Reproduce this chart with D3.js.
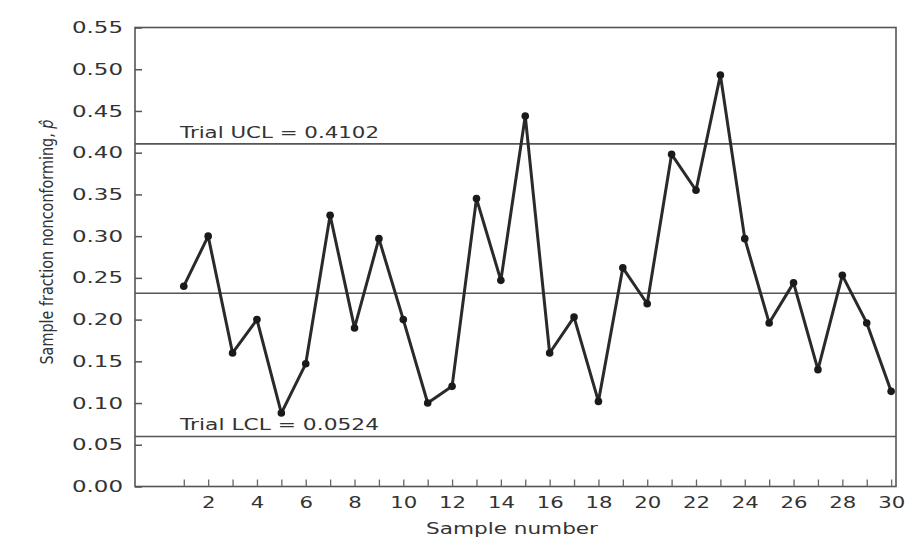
<!DOCTYPE html>
<html>
<head>
<meta charset="utf-8">
<script src="https://cdn.jsdelivr.net/npm/d3@7"></script>
<style>
  body { margin: 0; background: #fff; }
  text { font-family: "DejaVu Sans", sans-serif; fill: #333; }
</style>
</head>
<body>
<svg id="chart" width="914" height="540"></svg>
<script>
// sample numbers and fraction nonconforming
const samples = d3.range(1, 31);
const fractions = [0.24, 0.30, 0.16, 0.20, 0.088, 0.147, 0.325, 0.19, 0.297, 0.20,
                   0.10, 0.12, 0.345, 0.247, 0.444, 0.16, 0.203, 0.102, 0.262, 0.219,
                   0.398, 0.355, 0.493, 0.297, 0.196, 0.244, 0.14, 0.253, 0.196, 0.114];
// control lines (where they sit on the chart) and their labels
const limitValues = [0.4105, 0.2315, 0.06];
const limitLabels = ['Trial UCL = 0.4102', '', 'Trial LCL = 0.0524'];
const yTicks = d3.range(0, 0.56, 0.05);
const xTicks = d3.range(1, 31);

const svg = d3.select('#chart');
const plotLeft = 135, plotRight = 896, plotTop = 27.5, plotBottom = 486.5;

const x = d3.scaleLinear().domain([-1, 30.2]).range([plotLeft, plotRight]);
const y = d3.scaleLinear().domain([0, 0.55]).range([plotBottom, plotTop]);

// frame
svg.append('rect')
  .attr('x', plotLeft).attr('y', plotTop)
  .attr('width', plotRight - plotLeft).attr('height', plotBottom - plotTop)
  .attr('fill', 'none').attr('stroke', '#555').attr('stroke-width', 1.6);

// y axis, ticks pointing inward
const yAxis = svg.append('g')
  .attr('transform', `translate(${plotLeft},0)`)
  .call(d3.axisLeft(y).tickValues(yTicks).tickFormat(d3.format('.2f'))
    .tickSizeInner(-7).tickSizeOuter(0).tickPadding(12));
yAxis.select('.domain').remove();
yAxis.selectAll('line').attr('stroke', '#555').attr('stroke-width', 1.5);
yAxis.selectAll('text')
  .style('font-size', '16px').attr('fill', '#444')
  .attr('textLength', 51).attr('lengthAdjust', 'spacingAndGlyphs');

// x axis
const xAxis = svg.append('g')
  .attr('transform', `translate(0,${plotBottom})`)
  .call(d3.axisBottom(x).tickValues(xTicks).tickFormat(d => d % 2 === 0 ? d : '')
    .tickSizeInner(-7).tickSizeOuter(0).tickPadding(10));
xAxis.select('.domain').remove();
xAxis.selectAll('line').attr('stroke', '#666').attr('stroke-width', 1.3);
xAxis.selectAll('text')
  .style('font-size', '16px').attr('fill', '#444')
  .attr('textLength', d => d % 2 === 0 ? String(d).length * 13.5 : null)
  .attr('lengthAdjust', 'spacingAndGlyphs');

// limit lines
svg.selectAll('.limit')
  .data(limitValues)
  .enter()
  .append('line')
    .attr('x1', plotLeft).attr('x2', plotRight)
    .attr('y1', d => y(d)).attr('y2', d => y(d))
    .attr('stroke', '#555').attr('stroke-width', 1.6);

svg.selectAll('.limitLabel')
  .data(limitValues)
  .enter()
  .append('text')
    .attr('x', 180)
    .attr('y', d => y(d) - 6)
    .style('font-size', '16px')
    .attr('fill', '#333')
    .attr('textLength', (d, i) => limitLabels[i] ? 199 : null)
    .attr('lengthAdjust', 'spacingAndGlyphs')
    .text((d, i) => limitLabels[i]);

// data line and points
const line = d3.line()
  .x((d, i) => x(samples[i]))
  .y(d => y(d));
svg.append('path')
  .datum(fractions)
  .attr('d', line)
  .attr('fill', 'none')
  .attr('stroke', '#2a2a2a')
  .attr('stroke-width', 3)
  .attr('stroke-linejoin', 'round');
svg.selectAll('.pt')
  .data(fractions)
  .enter()
  .append('circle')
    .attr('cx', (d, i) => x(samples[i]))
    .attr('cy', d => y(d))
    .attr('r', 3.8)
    .attr('fill', '#1a1a1a');

// axis titles
svg.append('text')
  .attr('x', 512).attr('y', 534)
  .attr('text-anchor', 'middle')
  .style('font-size', '16px')
  .attr('textLength', 172).attr('lengthAdjust', 'spacingAndGlyphs')
  .text('Sample number');

const yTitle = svg.append('text')
  .attr('transform', 'translate(53,242) rotate(-90)')
  .attr('text-anchor', 'middle')
  .style('font-size', '17px')
  .attr('textLength', 245).attr('lengthAdjust', 'spacingAndGlyphs');
yTitle.append('tspan').text('Sample fraction nonconforming, ');
yTitle.append('tspan').style('font-style', 'italic').text('p\u0302');
</script>
</body>
</html>
